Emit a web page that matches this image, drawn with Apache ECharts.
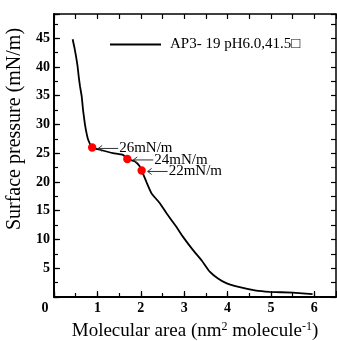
<!DOCTYPE html>
<html>
<head>
<meta charset="utf-8">
<script src="https://cdn.jsdelivr.net/npm/echarts@6/dist/echarts.min.js"></script>
<style>
  html, body { margin: 0; padding: 0; background: #fff; }
  #chart { width: 337px; height: 341px; }
</style>
</head>
<body>
<div id="chart"></div>
<script>
// Isotherm: molecular area (nm^2 per molecule) vs surface pressure (mN/m)
const area = [0.43, 0.48, 0.54, 0.57, 0.60, 0.64, 0.67, 0.71, 0.75, 0.79, 0.88,
              1.06, 1.36, 1.59, 1.69, 1.86, 1.98, 2.02, 2.13, 2.25, 2.44, 2.59,
              2.82, 2.97, 3.20, 3.40, 3.59, 3.78, 3.97, 4.28, 4.66, 4.97, 5.50, 5.96];
const pressure = [44.8, 43.0, 40.3, 38.3, 36.6, 34.8, 32.5, 30.2, 28.5, 27.3, 26.0,
                  25.6, 25.0, 24.7, 24.0, 23.6, 22.7, 22.0, 20.0, 18.0, 16.3, 14.6,
                  12.2, 10.5, 8.2, 6.4, 4.4, 3.2, 2.4, 1.7, 1.1, 0.9, 0.75, 0.5];

// Highlighted transfer pressures
const markArea = [0.88, 1.69, 2.02];
const markPressure = [26, 24, 22];
const markText = ['26mN/m', '24mN/m', '22mN/m'];

const seriesName = 'AP3- 19 pH6.0,41.5\u25A1';
const xTitle = 'Molecular area (nm{sup|2} molecule{sup|-1})';
const yTitle = 'Surface pressure (mN/m)';

const SERIF = '"Liberation Serif", "DejaVu Serif", serif';

const chart = echarts.init(document.getElementById('chart'), null, { renderer: 'canvas' });

const tickLabel = { fontFamily: SERIF, fontWeight: 'bold', fontSize: 14, color: '#000' };

function baseAxis(extra) {
  return Object.assign({
    type: 'value',
    axisLine: { show: false },
    splitLine: { show: false },
    axisLabel: { show: false },
    axisTick: { show: true, inside: true, length: 4, lineStyle: { color: '#000', width: 1.2 } }
  }, extra);
}

const option = {
  animation: false,
  backgroundColor: '#fff',
  grid: { left: 54, right: 1, top: 14, bottom: 44, containLabel: false, outerBoundsMode: 'none' },
  legend: {
    left: 105, top: 32,
    icon: 'rect',
    itemWidth: 51, itemHeight: 2,
    data: [seriesName],
    textStyle: { fontFamily: SERIF, fontSize: 15, color: '#000', padding: [0, 0, 0, 4] }
  },
  xAxis: [
    {
      type: 'value', min: 0, max: 6.5, interval: 1, position: 'bottom',
      axisLine: { show: true, onZero: false, lineStyle: { color: '#000', width: 2 } },
      axisTick: { show: true, inside: true, length: 6, lineStyle: { color: '#000', width: 1.2 } },
      splitLine: { show: false },
      axisLabel: Object.assign({
        margin: 4,
        formatter: v => (v % 1 !== 0 ? '' : (v === 0 ? '{z|0}' : String(v))),
        rich: { z: { fontFamily: SERIF, fontWeight: 'bold', fontSize: 14, color: '#000', padding: [0, 18, 0, 0] } }
      }, tickLabel),
      name: xTitle,
      nameLocation: 'middle',
      nameGap: 24,
      nameTextStyle: {
        fontFamily: SERIF, fontSize: 19, color: '#000',
        rich: { sup: { fontFamily: SERIF, fontSize: 12, color: '#000', verticalAlign: 'top', padding: [0, 0, 8, 0] } }
      }
    },
    baseAxis({ min: 0, max: 6.5, interval: 0.5, position: 'bottom' }),
    baseAxis({
      min: 0, max: 6.5, interval: 0.5, position: 'top',
      axisLine: { show: true, onZero: false, lineStyle: { color: '#000', width: 1.5 } },
      axisTick: { show: true, inside: true, length: 5, lineStyle: { color: '#000', width: 1.2 } }
    })
  ],
  yAxis: [
    {
      type: 'value', min: 0, max: 49.2, interval: 5, position: 'left',
      axisLine: { show: true, onZero: false, lineStyle: { color: '#000', width: 2 } },
      axisTick: { show: true, inside: true, length: 6, lineStyle: { color: '#000', width: 1.2 } },
      splitLine: { show: false },
      axisLabel: Object.assign({
        margin: 4,
        formatter: v => (v === 0 || v % 5 !== 0 ? '' : String(v))
      }, tickLabel),
      name: yTitle,
      nameLocation: 'middle',
      nameGap: 26,
      nameTextStyle: { fontFamily: SERIF, fontSize: 20, color: '#000', padding: [0, 0, 0, 53] }
    },
    baseAxis({ min: 0, max: 49.2, interval: 2.5, position: 'left' }),
    baseAxis({
      min: 0, max: 49.2, interval: 2.5, position: 'right',
      axisLine: { show: true, onZero: false, lineStyle: { color: '#000', width: 1.5 } },
      axisTick: { show: true, inside: true, length: 5, lineStyle: { color: '#000', width: 1.2 } }
    })
  ],
  series: [
    {
      name: seriesName,
      type: 'line',
      xAxisIndex: 0, yAxisIndex: 0,
      symbol: 'none',
      smooth: 0.15,
      lineStyle: { color: '#000', width: 1.8 },
      itemStyle: { color: '#000' },
      data: area.map((a, i) => [a, pressure[i]])
    },
    {
      name: 'marks',
      type: 'custom',
      xAxisIndex: 0, yAxisIndex: 0,
      clip: false,
      z: 5,
      data: markArea.map((a, i) => [a, markPressure[i], i]),
      renderItem: (params, api) => {
        const p = api.coord([api.value(0), api.value(1)]);
        const i = api.value(2);
        const ay = p[1] + 1;
        const tip = p[0] + 6;
        return {
          type: 'group',
          children: [
            { type: 'circle', shape: { cx: p[0], cy: p[1], r: 4.2 }, style: { fill: '#ff0000' } },
            { type: 'line', shape: { x1: tip, y1: ay, x2: tip + 20, y2: ay },
              style: { stroke: '#333', lineWidth: 1 } },
            { type: 'polyline', shape: { points: [[tip + 4, ay - 3], [tip, ay], [tip + 4, ay + 3]] },
              style: { stroke: '#333', lineWidth: 1, fill: null } },
            { type: 'text', x: p[0] + 27, y: ay,
              style: { text: markText[i], font: '15px ' + SERIF, fill: '#000', verticalAlign: 'middle', align: 'left' } }
          ]
        };
      }
    }
  ]
};

chart.setOption(option);
</script>
</body>
</html>
